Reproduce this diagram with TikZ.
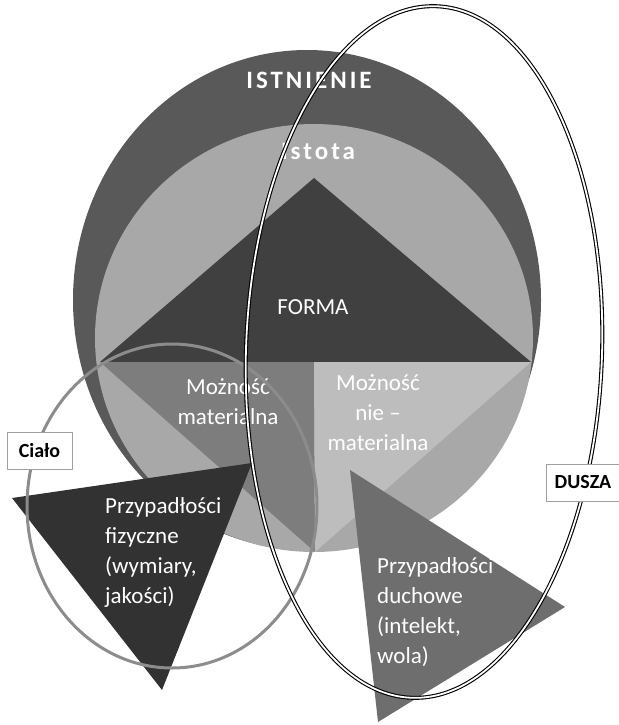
\documentclass[tikz,border=0pt]{standalone}
\usepackage{fontspec}
\setmainfont{Carlito}
\definecolor{istnienie}{HTML}{595959}
\definecolor{istota}{HTML}{A8A8A8}
\definecolor{forma}{HTML}{404040}
\definecolor{materialna}{HTML}{7D7D7D}
\definecolor{niematerialna}{HTML}{BDBDBD}
\definecolor{fizyczne}{HTML}{323232}
\definecolor{duchowe}{HTML}{6E6E6E}
\definecolor{cialoline}{HTML}{8C8C8C}
\definecolor{boxgray}{HTML}{A0A0A0}
\begin{document}
\begin{tikzpicture}[x=1pt,y=-1pt]
  \tikzstyle{every node}=[inner sep=0pt, text=white, font=\fontsize{23}{30}\selectfont]
  \tikzstyle{spaced}=[font=\fontsize{25}{30}\selectfont\bfseries\addfontfeature{LetterSpace=12}]
  \tikzstyle{namebox}=[draw=boxgray, line width=1pt, fill=white, text=black, minimum height=37pt, font=\fontsize{20}{24}\selectfont\bfseries]
  \useasboundingbox (0,0) rectangle (618,725);
  \fill[istnienie] (307,300) ellipse [x radius=234pt, y radius=250pt];
  \fill[istota] (314,338) ellipse [x radius=219pt, y radius=214pt];
  \begin{scope}
    \clip (314,338) ellipse [x radius=219pt, y radius=214pt];
    \fill[forma] (100,362) -- (314,178) -- (531,362) -- cycle;
    \fill[materialna] (100,362) -- (314,362) -- (315,552) -- cycle;
    \fill[niematerialna] (314,362) -- (531,362) -- (315,552) -- cycle;
  \end{scope}
  \node[spaced] (istnienie) at (309,80) {ISTNIENIE};
  \node[spaced] (istota) at (318,151) {Istota};
  \node (forma) at (313,307) {FORMA};
  \node[align=center] (matmoz) at (228,402) {Możność\\materialna};
  \node[align=center] (niematmoz) at (378,413) {Możność\\nie –\\materialna};
  \fill[fizyczne] (12,498) -- (252,463) -- (162,690) -- cycle;
  \fill[duchowe] (350,470) -- (565,607) -- (378,722) -- cycle;
  \node[align=left, anchor=west] (fizyczne) at (105,552) {Przypadłości\\fizyczne\\(wymiary,\\jakości)};
  \node[align=left, anchor=west] (duchowe) at (377,612) {Przypadłości\\duchowe\\(intelekt,\\wola)};
  \draw[cialoline, line width=3pt] (172,506) ellipse [x radius=145pt, y radius=162pt];
  \draw[line width=1.1pt, double=white, double distance=1.8pt, rotate around={-2:(424,352)}] (424,352) ellipse [x radius=178pt, y radius=346pt];
  \node[namebox, minimum width=65pt] (cialo) at (39.5,450.5) {Ciało};
  \node[namebox, minimum width=74pt] (dusza) at (583,482.5) {DUSZA};
\end{tikzpicture}
\end{document}
